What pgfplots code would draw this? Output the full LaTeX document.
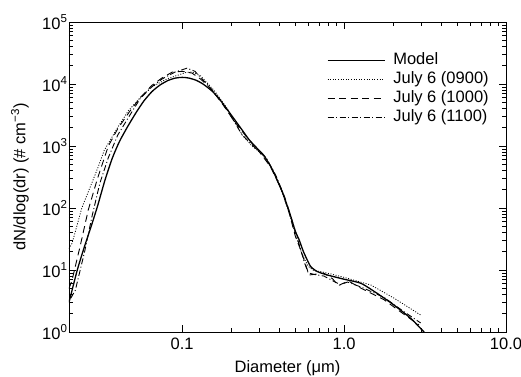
\documentclass[border=0pt]{standalone}
\usepackage{fontspec}
\setmainfont{Liberation Sans}
\usepackage{pgfplots}
\pgfplotsset{compat=1.18}
\usetikzlibrary{calc}
\newcommand{\chartfont}{\fontsize{16.5}{19}\selectfont}
\begin{document}
\begin{tikzpicture}[font=\chartfont]
\begin{loglogaxis}[
  scale only axis, width=437pt, height=310pt,
  xmin=0.02, xmax=10, ymin=1, ymax=1e5,
  axis line style={line width=0.8pt},
  every tick/.style={black, line width=0.6pt},
  major tick length=7pt, minor tick length=4pt,
  tick align=inside,
  tick label style={font=\chartfont},
  label style={font=\chartfont},
  xtick={0.1,1,10}, xticklabels={0.1,1.0,10.0},
  ytick={1,10,100,1000,10000,100000},
  yticklabels={10\textsuperscript{0},10\textsuperscript{1},10\textsuperscript{2},10\textsuperscript{3},10\textsuperscript{4},10\textsuperscript{5}},
  xticklabel style={yshift=-2pt},
  yticklabel style={xshift=2pt},
  xlabel={Diameter (μm)},
  ylabel={dN/dlog(dr) (\# cm\textsuperscript{−3})},
  xlabel style={at={(axis description cs:0.5,0)}, anchor=center, yshift=-36pt},
  ylabel style={at={(axis description cs:0,0.5)}, anchor=center, rotate=0, yshift=49pt},
  legend style={draw=none, fill=none, at={(axis description cs:0.59,0.905)}, anchor=north west,
    row sep=2pt, column sep=7pt, inner sep=0pt, font=\chartfont,
    nodes={inner sep=1pt, text height=12pt, text depth=3pt}},
  legend cell align=left,
  legend image code/.code={\draw[#1] (0pt,0pt) -- (57pt,0pt);},
]
\addplot[black, line width=1.3pt, smooth, tension=0.4] coordinates {
(0.020,3.0) (0.0225,10) (0.025,24.5) (0.0275,52) (0.030,107) (0.0333,277)
(0.037,634) (0.041,1183) (0.046,2046) (0.052,3483) (0.058,5320) (0.065,7520)
(0.073,9640) (0.082,11430) (0.091,12470) (0.10,12800) (0.11,12470) (0.122,11480)
(0.135,9930) (0.153,7680) (0.17,5710) (0.187,4090) (0.21,2700) (0.235,1800)
(0.26,1250) (0.29,920) (0.32,700) (0.36,420) (0.414,185) (0.46,85) (0.50,42)
(0.527,31) (0.56,20) (0.60,13.5) (0.623,11.3) (0.68,9.5) (0.79,8.3) (1.0,7.1)
(1.27,6.1) (1.6,4.2) (2.04,2.7) (2.58,1.66) (3.03,1.08) (3.12,1.0)
};
\addlegendentry{Model}
\addplot[black, line width=0.8pt, dash pattern=on 1pt off 1.6pt] coordinates {
(0.020,22) (0.0209,27) (0.024,100) (0.0303,460) (0.033,850) (0.04,2000)
(0.0465,3700) (0.055,6000) (0.065,9000) (0.08,12000) (0.095,14000) (0.105,15300)
(0.115,15600) (0.13,13500) (0.14,11000) (0.16,7500) (0.19,4000) (0.235,1500)
(0.27,1000) (0.31,750) (0.36,430) (0.414,180) (0.46,80) (0.5,38) (0.55,18)
(0.6,11.5) (0.65,9.8) (0.72,9.4) (0.85,8.5) (1.04,7.4) (1.47,5.7) (2.04,3.5)
(2.5,2.5) (2.97,1.88)
};
\addlegendentry{July 6 (0900)}
\addplot[black, line width=0.9pt, dash pattern=on 7pt off 4.5pt] coordinates {
(0.020,5) (0.0209,6.9) (0.0235,25) (0.0263,93) (0.030,300) (0.035,1000)
(0.04,1900) (0.047,3500) (0.055,6000) (0.065,9500) (0.075,12500) (0.087,15600)
(0.1,16000) (0.115,15000) (0.13,12000) (0.15,8500) (0.18,4500) (0.21,2500)
(0.25,1400) (0.3,800) (0.35,470) (0.414,190) (0.46,80) (0.5,35) (0.54,21)
(0.58,12) (0.607,8.3) (0.65,8.5) (0.75,8.9) (0.85,7.2) (0.92,5.6) (1.0,6.2)
(1.07,6.6) (1.27,5.1) (1.77,3.3) (2.3,2.0) (2.9,1.3)
};
\addlegendentry{July 6 (1000)}
\addplot[black, line width=0.9pt, dash pattern=on 6pt off 2.5pt on 1pt off 2.5pt] coordinates {
(0.0205,3.5) (0.0219,4.75) (0.025,20) (0.0277,72) (0.031,250) (0.035,650)
(0.04,1500) (0.047,3000) (0.055,5800) (0.065,9000) (0.075,12000) (0.09,15500)
(0.107,18000) (0.12,16000) (0.14,10400) (0.16,7000) (0.19,3800) (0.235,1500)
(0.28,950) (0.33,650) (0.38,330) (0.43,150) (0.48,60) (0.53,25) (0.57,13)
(0.6,9) (0.65,8.5) (0.75,8) (0.87,6.5) (0.95,5.8) (1.05,6.4) (1.3,5.2)
(1.77,3.6) (2.3,2.2) (2.97,1.4)
};
\addlegendentry{July 6 (1100)}
\end{loglogaxis}
\pgfresetboundingbox
\path ($(current axis.south west)+(-69pt,-44pt)$) rectangle ($(current axis.north east)+(15pt,22pt)$);
\end{tikzpicture}
\end{document}
